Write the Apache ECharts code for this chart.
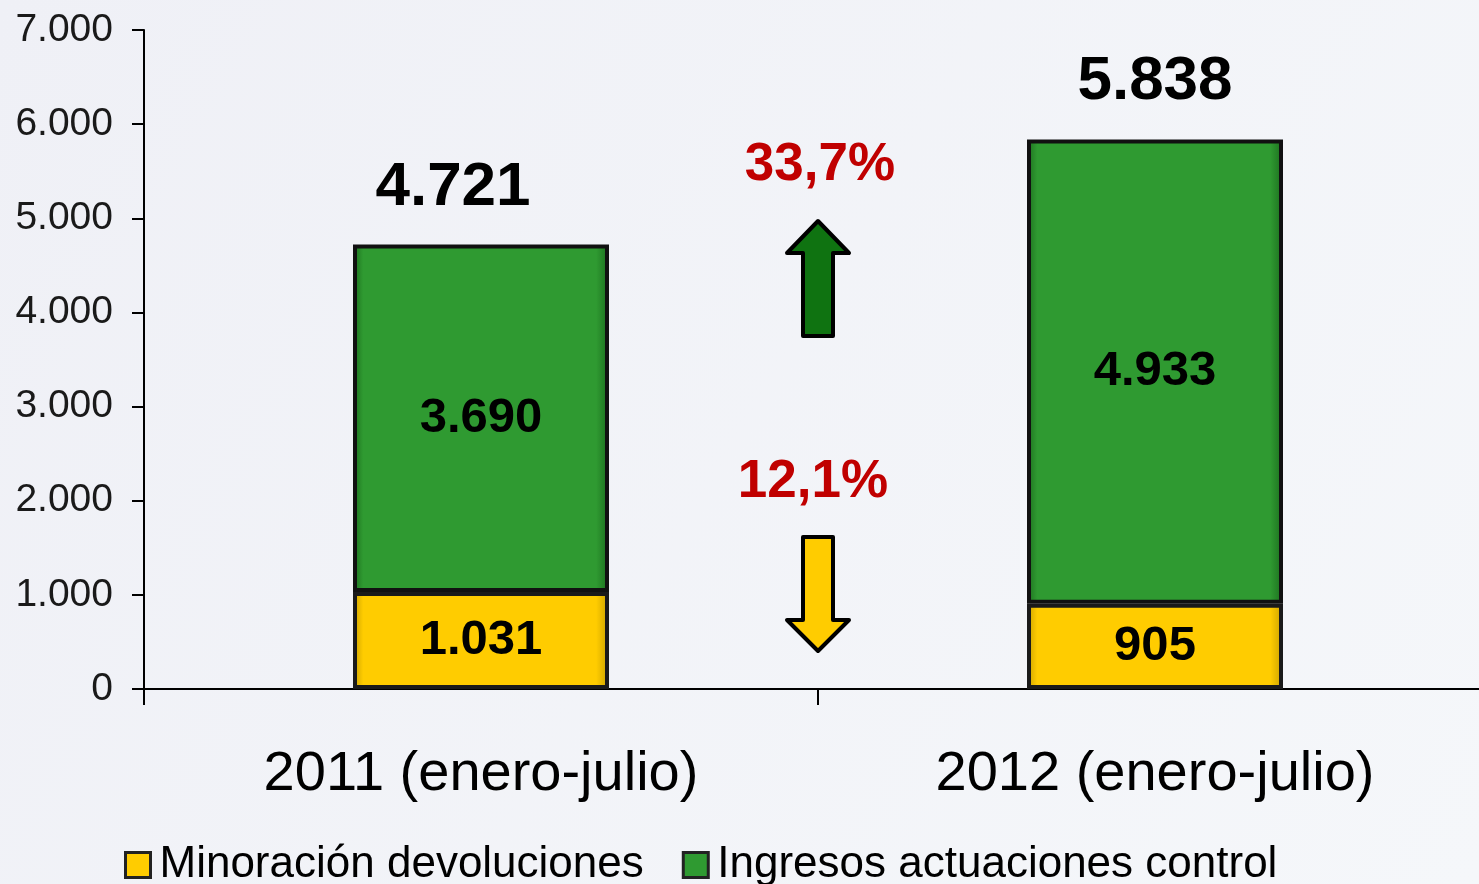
<!DOCTYPE html>
<html>
<head>
<meta charset="utf-8">
<script src="https://cdn.jsdelivr.net/npm/echarts@6/dist/echarts.min.js"></script>
<style>
  html, body { margin: 0; padding: 0; background: #f2f3f8; }
  #chart { width: 1479px; height: 884px; }
</style>
</head>
<body>
<div id="chart"></div>
<script>
const categories = ['2011 (enero-julio)', '2012 (enero-julio)']
const minoracion = [1031, 905]
const ingresos = [3690, 4933]
const totals = [4721, 5838]
const changes = ['33,7%', '12,1%']

const fmt = (v) => String(v).replace(/\B(?=(\d{3})+(?!\d))/g, '.')

const chart = echarts.init(document.getElementById('chart'))

const barLabel = {
  show: true,
  position: 'inside',
  color: '#000',
  fontFamily: 'Liberation Sans, Arial, sans-serif',
  fontWeight: 'bold',
  fontSize: 49,
  formatter: (p) => fmt(p.value),
}

// bevelled look: darker edges left/right
function bevel(edge, mid) {
  return new echarts.graphic.LinearGradient(0, 0, 1, 0, [
    { offset: 0, color: edge },
    { offset: 0.04, color: mid },
    { offset: 0.95, color: mid },
    { offset: 1, color: edge },
  ])
}

// arrow shapes (annotation only)
const upArrow = [[803, 336], [803, 253], [787, 253], [818, 221], [849, 253], [833, 253], [833, 336]]
const downArrow = [[803, 537], [833, 537], [833, 620], [849, 620], [818, 651], [787, 620], [803, 620]]

const option = {
  backgroundColor: {
    type: 'linear', x: 0, y: 0, x2: 1, y2: 1,
    colorStops: [
      { offset: 0, color: '#eff0f6' },
      { offset: 1, color: '#f5f7fa' },
    ],
  },
  animation: false,
  grid: { left: 144, width: 1348, top: 30, bottom: 195, outerBoundsMode: 'none' },
  legend: {
    left: 119,
    bottom: -8,
    itemWidth: 25,
    itemHeight: 25,
    itemGap: 38,
    icon: 'rect',
    itemStyle: { borderColor: '#222', borderWidth: 3 },
    textStyle: {
      fontFamily: 'Liberation Sans, Arial, sans-serif',
      fontSize: 44,
      color: '#000',
      padding: [0, 0, 0, 4],
    },
    data: ['Minoración devoluciones', 'Ingresos actuaciones control'],
  },
  xAxis: {
    type: 'category',
    data: categories,
    axisLine: { lineStyle: { color: '#000', width: 2 } },
    axisTick: { show: true, length: 16, lineStyle: { color: '#000', width: 2 } },
    axisLabel: {
      margin: 58,
      color: '#000',
      fontFamily: 'Liberation Sans, Arial, sans-serif',
      fontSize: 56,
    },
  },
  yAxis: {
    type: 'value',
    min: 0,
    max: 7000,
    interval: 1000,
    splitLine: { show: false },
    axisLine: { show: true, lineStyle: { color: '#000', width: 2 } },
    axisTick: { show: true, length: 12, lineStyle: { color: '#000', width: 2 } },
    axisLabel: {
      margin: 31,
      color: '#1a1a1a',
      fontFamily: 'Liberation Sans, Arial, sans-serif',
      fontSize: 39,
      formatter: (v) => fmt(v),
    },
  },
  series: [
    {
      name: 'Minoración devoluciones',
      type: 'bar',
      stack: 'total',
      barWidth: 256,
      itemStyle: {
        color: bevel('#c9a000', '#ffcc00'),
        borderColor: '#1a1a1a',
        borderWidth: 4,
      },
      label: barLabel,
      data: minoracion,
    },
    {
      name: 'Ingresos actuaciones control',
      type: 'bar',
      stack: 'total',
      barWidth: 256,
      itemStyle: {
        color: bevel('#1c6e1e', '#2f9a31'),
        borderColor: '#111',
        borderWidth: 4,
      },
      label: barLabel,
      data: ingresos,
    },
    {
      name: 'Total',
      type: 'bar',
      stack: 'total',
      barWidth: 256,
      itemStyle: { color: 'transparent' },
      label: {
        show: true,
        position: 'top',
        distance: 26,
        color: '#000',
        fontFamily: 'Liberation Sans, Arial, sans-serif',
        fontWeight: 'bold',
        fontSize: 62,
        formatter: (p) => fmt(totals[p.dataIndex]),
      },
      data: [
        { value: 0, label: { offset: [-28, 0] } },
        { value: 0 },
      ],
    },
  ],
  graphic: [
    {
      type: 'polygon',
      shape: { points: upArrow },
      style: { fill: '#0f7311', stroke: '#000', lineWidth: 4, lineJoin: 'round' },
    },
    {
      type: 'polygon',
      shape: { points: downArrow },
      style: { fill: '#ffcc00', stroke: '#000', lineWidth: 4, lineJoin: 'round' },
    },
    {
      type: 'text',
      x: 820,
      y: 165,
      style: {
        text: changes[0],
        fill: '#c00000',
        font: 'bold 53px "Liberation Sans", Arial, sans-serif',
        align: 'center',
        verticalAlign: 'middle',
      },
    },
    {
      type: 'text',
      x: 813,
      y: 482,
      style: {
        text: changes[1],
        fill: '#c00000',
        font: 'bold 53px "Liberation Sans", Arial, sans-serif',
        align: 'center',
        verticalAlign: 'middle',
      },
    },
  ],
}

chart.setOption(option)
</script>
</body>
</html>
